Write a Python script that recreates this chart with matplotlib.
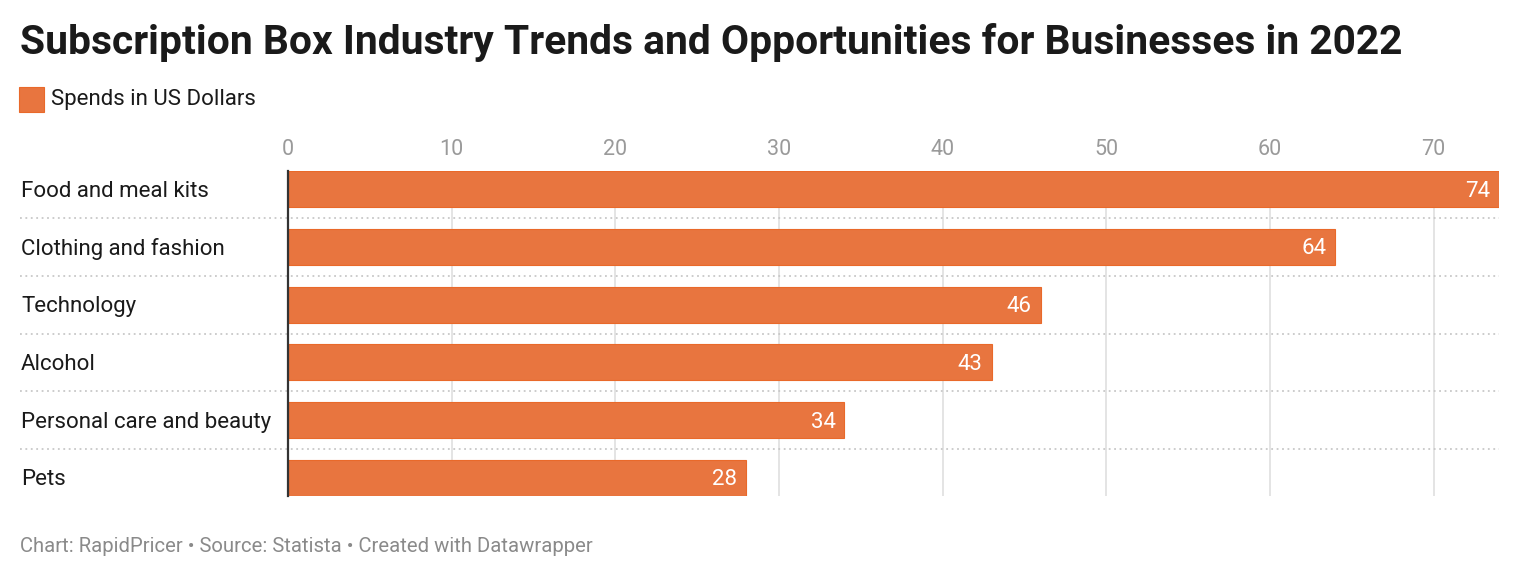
import matplotlib
matplotlib.use("Agg")
import matplotlib.pyplot as plt

categories = ["Food and meal kits", "Clothing and fashion", "Technology",
              "Alcohol", "Personal care and beauty", "Pets"]
values = [74, 64, 46, 43, 34, 28]
ticks = [0, 10, 20, 30, 40, 50, 60, 70]

title = "Subscription Box Industry Trends and Opportunities for Businesses in 2022"
legend_label = "Spends in US Dollars"
footer = "Chart: RapidPricer \u2022 Source: Statista \u2022 Created with Datawrapper"

plt.rcParams['font.family'] = ['Roboto', 'DejaVu Sans']

W, H = 1520, 578
fig = plt.figure(figsize=(W / 100, H / 100), dpi=100)
fig.patch.set_facecolor("white")

left, right, top, bottom = 288, 1499, 171, 496
ax = fig.add_axes([left / W, 1 - bottom / H, (right - left) / W, (bottom - top) / H])

bar_color = "#E8753F"
bh = 0.625
ypos = list(range(len(categories)))
ax.barh(ypos, values, height=bh, color=bar_color, edgecolor="#E9692A",
        linewidth=0.8, zorder=3)
ax.set_ylim(len(categories) - 1 + bh / 2, -bh / 2)
ax.set_xlim(0, 74)

# vertical gridlines
for t in ticks[1:]:
    ax.axvline(t, color="#e2e2e2", lw=1.3, zorder=1)

# dotted separators
sep_left = (20 - left) / (right - left)
for i in range(len(categories) - 1):
    ax.plot([sep_left, 1], [i + 0.5, i + 0.5], transform=ax.get_yaxis_transform(),
            color="#c8c8c8", lw=1.3, ls=(0, (1, 2)), clip_on=False, zorder=2)

for s in ["top", "right", "bottom"]:
    ax.spines[s].set_visible(False)
ax.spines["left"].set_color("#333333")
ax.spines["left"].set_linewidth(1.6)
ax.spines["left"].set_zorder(4)

ax.xaxis.tick_top()
ax.set_xticks(ticks)
ax.set_xticklabels([str(t) for t in ticks])
ax.tick_params(axis="x", length=0, pad=8, labelsize=15.5, labelcolor="#9a9a9a")
ax.set_yticks(ypos)
ax.set_yticklabels([])
ax.tick_params(axis="y", length=0)

dy = 0.035
lab_left = (21 - left) / (right - left)
for y, c in zip(ypos, categories):
    ax.text(lab_left, y + dy, c, transform=ax.get_yaxis_transform(), ha="left",
            va="center", fontsize=16, color="#1a1a1a")

for y, v in zip(ypos, values):
    ax.text(v - 0.55, y + dy, str(v), ha="right", va="center", fontsize=16,
            color="white", zorder=5)

fig.text(20 / W, 1 - 42 / H, title, ha="left", va="center", fontsize=29.3,
         fontweight="bold", color="#1a1a1a")

fig.patches.append(plt.Rectangle((19 / W, 1 - 112 / H), 25 / W, 25 / H,
                                 transform=fig.transFigure, facecolor=bar_color,
                                 edgecolor="#E9692A", lw=0.8))
fig.text(51 / W, 1 - 100 / H, legend_label, ha="left", va="center", fontsize=16,
         color="#1a1a1a")

fig.text(20 / W, 1 - 546 / H, footer, ha="left", va="center", fontsize=14.6,
         color="#8a8a8a")

fig.savefig("out.png", dpi=100, facecolor="white")
